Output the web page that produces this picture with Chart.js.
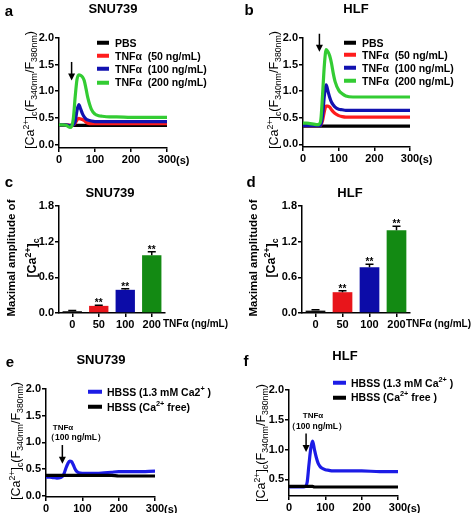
<!DOCTYPE html>
<html>
<head>
<meta charset="utf-8">
<script src="https://cdn.jsdelivr.net/npm/chart.js@4.4.0/dist/chart.umd.min.js"></script>
<style>
  html, body { margin: 0; padding: 0; background: #fff; }
  #fig { position: relative; width: 472px; height: 513px; overflow: hidden; font-family: "Liberation Sans", Arial, sans-serif; color: #000; }
  #fig canvas { position: absolute; left: 0; top: 0; }
  .t { position: absolute; white-space: pre; line-height: 1; z-index: 2; }
  .c { transform: translate(-50%, -50%); }
  .m { transform: translateY(-50%); }
  .letter { font-size: 15px; font-weight: bold; }
  .title { font-size: 13px; font-weight: bold; }
  .ytitle { font-size: 12.5px; transform: translate(-50%, -50%) rotate(-90deg); }
  .ytitle2 { font-size: 11.5px; font-weight: bold; transform: translate(-50%, -50%) rotate(-90deg); }
  .ytitle3 { font-size: 12.5px; font-weight: bold; transform: translate(-50%, -50%) rotate(-90deg); }
  .tick { font-size: 11px; font-weight: bold; }
  .unit { font-size: 10px; font-weight: bold; }
  .leg { font-size: 10.5px; font-weight: bold; }
  .leg i { display: inline-block; height: 4px; vertical-align: middle; position: relative; top: -1px; }
  .note { font-size: 8.5px; font-weight: bold; }
  sub, sup { font-size: 70%; line-height: 0; }
</style>
</head>
<body>
<div id="fig">
  <canvas id="chartA" width="472" height="513"></canvas>
  <canvas id="chartB" width="472" height="513"></canvas>
  <canvas id="chartC" width="472" height="513"></canvas>
  <canvas id="chartD" width="472" height="513"></canvas>
  <canvas id="chartE" width="472" height="513"></canvas>
  <canvas id="chartF" width="472" height="513"></canvas>

  <!-- panel letters and titles -->
  <div class="t c letter" style="left:9px;top:10px">a</div>
  <div class="t c title" style="left:113px;top:8px">SNU739</div>
  <div class="t c letter" style="left:249px;top:9px">b</div>
  <div class="t c title" style="left:356px;top:8px">HLF</div>
  <div class="t c letter" style="left:9px;top:181px">c</div>
  <div class="t c title" style="left:110px;top:192px">SNU739</div>
  <div class="t c letter" style="left:251px;top:181px">d</div>
  <div class="t c title" style="left:350px;top:192px">HLF</div>
  <div class="t c letter" style="left:10px;top:361px">e</div>
  <div class="t c title" style="left:101px;top:359px">SNU739</div>
  <div class="t c letter" style="left:246px;top:360px">f</div>
  <div class="t c title" style="left:345px;top:355px">HLF</div>

  <!-- y axis titles -->
  <div class="t ytitle" style="left:30px;top:90px">[Ca<sup>2+</sup>]<sub>c</sub>(F<sub>340nm</sub>/F<sub>380nm</sub>)</div>
  <div class="t ytitle" style="left:274px;top:90px">[Ca<sup>2+</sup>]<sub>c</sub>(F<sub>340nm</sub>/F<sub>380nm</sub>)</div>
  <div class="t ytitle2" style="left:12px;top:258px">Maximal amplitude of</div>
  <div class="t ytitle3" style="left:32px;top:258px">[Ca<sup>2+</sup>]<sub>c</sub></div>
  <div class="t ytitle2" style="left:254px;top:258px">Maximal amplitude of</div>
  <div class="t ytitle3" style="left:271px;top:258px">[Ca<sup>2+</sup>]<sub>c</sub></div>
  <div class="t ytitle" style="left:16px;top:441px">[Ca<sup>2+</sup>]<sub>c</sub>(F<sub>340nm</sub>/F<sub>380nm</sub>)</div>
  <div class="t ytitle" style="left:261px;top:443px">[Ca<sup>2+</sup>]<sub>c</sub>(F<sub>340nm</sub>/F<sub>380nm</sub>)</div>

  <!-- x axis units -->
  <div class="t m tick" style="left:176px;top:160px">(s)</div>
  <div class="t m tick" style="left:419px;top:159px">(s)</div>
  <div class="t m unit" style="left:163px;top:324px">TNFα (ng/mL)</div>
  <div class="t m unit" style="left:406px;top:324px">TNFα (ng/mL)</div>
  <div class="t m tick" style="left:164px;top:509px">(s)</div>
  <div class="t m tick" style="left:407px;top:508px">(s)</div>

  <!-- stimulus notes -->
  <div class="t c note" style="left:63px;top:428px;font-size:8px">TNFα</div>
  <div class="t m note" style="left:46px;top:437px">（100 ng/mL）</div>
  <div class="t c note" style="left:313px;top:416px;font-size:8px">TNFα</div>
  <div class="t m note" style="left:287px;top:426px">（100 ng/mL）</div>

  <div id="legA"></div><div id="legB"></div><div id="legE"></div><div id="legF"></div>
</div>

<script>
// ---- data ----
// panel a: SNU739 traces
const timeA = [0, 10, 20, 30, 35, 40, 45, 50, 55, 60, 65, 70, 75, 80, 90, 100, 110, 120, 140, 160, 200, 250, 300];
const pbsA = [0.36, 0.36, 0.36, 0.36, 0.36, 0.36, 0.36, 0.36, 0.36, 0.36, 0.36, 0.36, 0.36, 0.36, 0.36, 0.36, 0.36, 0.36, 0.36, 0.36, 0.36, 0.36, 0.36];
const tnf50A = [0.37, 0.37, 0.37, 0.36, 0.36, 0.37, 0.40, 0.46, 0.49, 0.48, 0.47, 0.45, 0.42, 0.40, 0.39, 0.39, 0.39, 0.39, 0.39, 0.39, 0.39, 0.39, 0.39];
const tnf100A = [0.37, 0.37, 0.37, 0.35, 0.36, 0.37, 0.43, 0.64, 0.75, 0.67, 0.58, 0.52, 0.48, 0.46, 0.44, 0.43, 0.43, 0.43, 0.43, 0.43, 0.43, 0.43, 0.43];
const tnf200A = [0.37, 0.37, 0.36, 0.32, 0.34, 0.50, 0.90, 1.22, 1.31, 1.30, 1.27, 1.20, 1.05, 0.88, 0.66, 0.57, 0.54, 0.53, 0.52, 0.52, 0.51, 0.51, 0.51];

// panel b: HLF traces
const timeB = [0, 10, 20, 30, 40, 45, 50, 55, 60, 65, 70, 75, 80, 85, 90, 100, 110, 120, 140, 160, 200, 250, 300];
const pbsB = [0.34, 0.34, 0.34, 0.34, 0.34, 0.34, 0.34, 0.34, 0.34, 0.34, 0.34, 0.34, 0.34, 0.34, 0.34, 0.34, 0.34, 0.34, 0.34, 0.34, 0.34, 0.34, 0.34];
const tnf50B = [0.35, 0.35, 0.35, 0.35, 0.35, 0.35, 0.36, 0.45, 0.62, 0.72, 0.72, 0.70, 0.65, 0.61, 0.58, 0.54, 0.52, 0.51, 0.51, 0.51, 0.51, 0.51, 0.51];
const tnf100B = [0.35, 0.35, 0.35, 0.35, 0.35, 0.35, 0.37, 0.55, 0.92, 1.12, 1.00, 0.88, 0.79, 0.74, 0.70, 0.66, 0.65, 0.64, 0.64, 0.64, 0.64, 0.64, 0.64];
const tnf200B = [0.40, 0.40, 0.39, 0.38, 0.37, 0.38, 0.46, 0.95, 1.50, 1.78, 1.74, 1.66, 1.52, 1.33, 1.18, 1.02, 0.95, 0.91, 0.89, 0.89, 0.89, 0.89, 0.89];

// panels c/d: maximal amplitude bars
const doseLabels = ['0', '50', '100', '200'];
const ampC = [0.03, 0.12, 0.39, 0.97];
const errC = [0.01, 0.01, 0.02, 0.06];
const ampD = [0.04, 0.35, 0.77, 1.39];
const errD = [0.015, 0.025, 0.05, 0.07];
const starLabels = ['', '**', '**', '**'];

// panel e: SNU739 with/without extracellular Ca2+
const timeE = [0, 10, 20, 30, 40, 45, 50, 55, 60, 65, 70, 75, 80, 85, 90, 100, 120, 140, 160, 180, 200, 250, 300];
const caE = [0.35, 0.35, 0.34, 0.33, 0.34, 0.36, 0.42, 0.52, 0.60, 0.65, 0.64, 0.58, 0.50, 0.45, 0.43, 0.42, 0.42, 0.42, 0.43, 0.44, 0.45, 0.45, 0.46];
const freeE = [0.38, 0.38, 0.38, 0.38, 0.38, 0.38, 0.38, 0.38, 0.38, 0.38, 0.38, 0.38, 0.38, 0.38, 0.38, 0.38, 0.38, 0.38, 0.38, 0.38, 0.37, 0.37, 0.37];

// panel f: HLF with/without extracellular Ca2+
const timeF = [0, 10, 20, 30, 40, 45, 50, 55, 60, 65, 70, 75, 80, 85, 90, 100, 110, 120, 140, 160, 200, 250, 300];
const caF = [0.37, 0.37, 0.37, 0.37, 0.37, 0.38, 0.45, 0.75, 1.02, 1.14, 1.00, 0.87, 0.77, 0.72, 0.69, 0.66, 0.65, 0.64, 0.64, 0.64, 0.64, 0.63, 0.63];
const freeF = [0.38, 0.38, 0.38, 0.38, 0.38, 0.38, 0.38, 0.38, 0.38, 0.38, 0.37, 0.37, 0.37, 0.37, 0.37, 0.37, 0.37, 0.37, 0.37, 0.37, 0.37, 0.37, 0.37];

// tick values
const timeTicks = [0, 100, 200, 300];
const ratioTicks = [0, 0.5, 1.0, 1.5, 2.0];
const ratioTicksF = [0.5, 1.0, 1.5, 2.0];
const ampTicks = [0, 0.6, 1.2, 1.8];

// legend text
const doseNames = ['PBS', 'TNFα  (50 ng/mL)', 'TNFα  (100 ng/mL)', 'TNFα  (200 ng/mL)'];
const hbssNamesE = ['HBSS (1.3 mM Ca2<sup>+</sup> )', 'HBSS (Ca<sup>2+</sup> free)'];
const hbssNamesF = ['HBSS (1.3 mM Ca<sup>2+</sup> )', 'HBSS (Ca<sup>2+</sup> free )'];

// ---- styling ----
const W = 472, H = 513, YW = 40, XH = 22;
const lineColors = ['#000000', '#ff1c1c', '#1212b0', '#33cc33'];
const barColors = ['#111111', '#e8151b', '#0c0ca8', '#138a13'];
const hbssColors = ['#1c1ce6', '#000000'];

Chart.defaults.font.family = '"Liberation Sans", Arial, sans-serif';
Chart.defaults.color = '#000';
const tickFont = { size: 11, weight: 'bold' };

// padding so the plot area lands at [left, top, right, bottom]
const pad = a => ({ left: a[0] - YW, top: a[1], right: W - a[2], bottom: H - a[3] - XH });

const axisGrid = { drawOnChartArea: false, drawTicks: true, tickLength: 4, color: '#000', lineWidth: 1.5 };
const axisBorder = { display: true, color: '#000', width: 1.5 };

function yAxis(min, max, ticks) {
    return {
        type: 'linear', min: min, max: max,
        afterBuildTicks: s => { s.ticks = ticks.map(v => ({ value: v })); },
        afterFit: s => { s.width = YW; },
        ticks: { font: tickFont, color: '#000', padding: 1, callback: v => Number(v).toFixed(1) },
        grid: axisGrid,
        border: axisBorder
    };
}

function timeAxis() {
    return {
        type: 'linear', min: 0, max: 300,
        afterBuildTicks: s => { s.ticks = timeTicks.map(v => ({ value: v })); },
        afterFit: s => { s.height = XH; },
        ticks: { font: tickFont, color: '#000', padding: 1, maxRotation: 0, autoSkip: false, callback: v => String(v) },
        grid: axisGrid,
        border: axisBorder
    };
}

// downward arrow marking TNFα addition, in data coordinates
const arrowPlugin = {
    id: 'arrow',
    afterDatasetsDraw(chart, args, opts) {
        if (opts.x == null) return;
        const { ctx, scales: { x, y } } = chart;
        const px = x.getPixelForValue(opts.x);
        const y1 = y.getPixelForValue(opts.from);
        const y2 = y.getPixelForValue(opts.to);
        ctx.save();
        ctx.strokeStyle = '#000';
        ctx.fillStyle = '#000';
        ctx.lineWidth = 1.5;
        ctx.beginPath();
        ctx.moveTo(px, y1);
        ctx.lineTo(px, y2 - 5);
        ctx.stroke();
        ctx.beginPath();
        ctx.moveTo(px - 3.5, y2 - 7);
        ctx.lineTo(px + 3.5, y2 - 7);
        ctx.lineTo(px, y2);
        ctx.closePath();
        ctx.fill();
        ctx.restore();
    }
};

// upper error bars + significance stars for the bar panels
const errorBarPlugin = {
    id: 'errbars',
    afterDatasetsDraw(chart, args, opts) {
        const { ctx, scales: { x, y } } = chart;
        const vals = chart.data.datasets[0].data;
        ctx.save();
        ctx.strokeStyle = '#000';
        ctx.fillStyle = '#000';
        ctx.lineWidth = 1.5;
        ctx.font = 'bold 10px "Liberation Sans", Arial, sans-serif';
        ctx.textAlign = 'center';
        ctx.textBaseline = 'alphabetic';
        vals.forEach((v, i) => {
            const px = x.getPixelForValue(i);
            const y0 = y.getPixelForValue(v);
            const y1 = y.getPixelForValue(v + opts.err[i]);
            ctx.beginPath();
            ctx.moveTo(px, y0);
            ctx.lineTo(px, y1);
            ctx.moveTo(px - 4, y1);
            ctx.lineTo(px + 4, y1);
            ctx.stroke();
            if (opts.stars[i]) ctx.fillText(opts.stars[i], px, y1 + 1);
        });
        ctx.restore();
    }
};

function lineChart(id, area, yMin, yTicks, yMax, time, series, colors, arrow) {
    const n = series.length;
    return new Chart(document.getElementById(id), {
        type: 'line',
        data: {
            datasets: series.map((vals, i) => ({
                data: vals.map((v, k) => ({ x: time[k], y: v })),
                borderColor: colors[i],
                borderWidth: 3.2,
                pointRadius: 0,
                cubicInterpolationMode: 'monotone',
                fill: false,
                order: n - i
            }))
        },
        options: {
            responsive: false,
            animation: false,
            layout: { padding: pad(area) },
            scales: { x: timeAxis(), y: yAxis(yMin, yMax, yTicks) },
            plugins: { legend: { display: false }, tooltip: { enabled: false }, arrow: arrow }
        },
        plugins: [arrowPlugin]
    });
}

function barChart(id, area, vals, errs) {
    return new Chart(document.getElementById(id), {
        type: 'bar',
        data: {
            labels: doseLabels,
            datasets: [{
                data: vals,
                backgroundColor: barColors,
                borderWidth: 0,
                barPercentage: 0.73,
                categoryPercentage: 1
            }]
        },
        options: {
            responsive: false,
            animation: false,
            layout: { padding: pad(area) },
            scales: {
                x: {
                    type: 'category',
                    offset: true,
                    afterFit: s => { s.height = XH; },
                    ticks: { font: tickFont, color: '#000', padding: 1, maxRotation: 0, autoSkip: false },
                    grid: Object.assign({}, axisGrid, { offset: false }),
                    border: axisBorder
                },
                y: yAxis(0, 1.8, ampTicks)
            },
            plugins: { legend: { display: false }, tooltip: { enabled: false }, errbars: { err: errs, stars: starLabels } }
        },
        plugins: [errorBarPlugin]
    });
}

lineChart('chartA', [59, 38, 167, 148], -0.066, ratioTicks, 2, timeA,
    [pbsA, tnf50A, tnf100A, tnf200A], lineColors, { x: 35, from: 1.55, to: 1.2 });
lineChart('chartB', [303, 38, 410, 147], -0.051, ratioTicks, 2, timeB,
    [pbsB, tnf50B, tnf100B, tnf200B], lineColors, { x: 46, from: 2.08, to: 1.74 });
barChart('chartC', [59, 206, 165, 313], ampC, errC);
barChart('chartD', [302, 206, 410, 313], ampD, errD);
lineChart('chartE', [46, 389, 155, 497], -0.024, ratioTicks, 2, timeE,
    [caE, freeE], hbssColors, { x: 45, from: 0.95, to: 0.6 });
lineChart('chartF', [289, 390, 398, 496], 0.219, ratioTicksF, 2, timeF,
    [caF, freeF], hbssColors, { x: 47, from: 1.27, to: 0.96 });

// legends as html rows
function legend(id, left, rows, names, colors, swatch, gap) {
    const box = document.getElementById(id);
    names.forEach((name, i) => {
        const d = document.createElement('div');
        d.className = 't m leg';
        d.style.left = left + 'px';
        d.style.top = rows[i] + 'px';
        d.innerHTML = '<i style="width:' + swatch + 'px;margin-right:' + gap + 'px;background:' + colors[i] + '"></i>' + name;
        box.appendChild(d);
    });
}
legend('legA', 97, [42.7, 55.9, 69.1, 82.3], doseNames, lineColors, 12, 6);
legend('legB', 344, [42.5, 55.2, 67.9, 80.6], doseNames, lineColors, 12, 6);
legend('legE', 88, [391.7, 406.7], hbssNamesE, hbssColors, 14, 5);
legend('legF', 333, [382.7, 397.3], hbssNamesF, hbssColors, 13, 5);
</script>
</body>
</html>
